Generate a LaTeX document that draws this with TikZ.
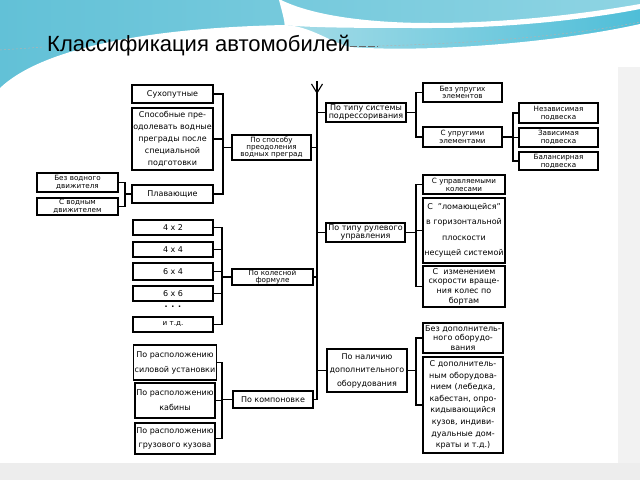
\documentclass[tikz,border=0pt]{standalone}
\usepackage{fontspec}
\setmainfont{DejaVu Sans}
\newfontfamily\titlefont{Liberation Sans}
\usetikzlibrary{arrows.meta}
\definecolor{tealL}{HTML}{62C1D7}
\definecolor{tealR}{HTML}{8ED4E3}
\definecolor{bandL}{HTML}{A5DCE7}
\definecolor{bandR}{HTML}{4FBED8}
\definecolor{pagegray}{HTML}{EDEDED}
\tikzset{
  box/.style={draw, line width=1.1pt, inner xsep=1pt, inner ysep=0pt, align=center,
    font=\fontsize{8}{8.6}\selectfont},
  lead/.style={font=\fontsize{8}{#1}\selectfont},
  small/.style={font=\fontsize{7.2}{#1}\selectfont},
  conn/.style={line width=1.1pt, line cap=rect},
}
\newcommand\abox[7][]{\node[box,minimum width={#4-#2},minimum height={#5-#3},#1] (#6) at ({(#2+#4)/2},{(#3+#5)/2}) {#7};}
\begin{document}
\begin{tikzpicture}[x=1pt,y=-1pt]
\useasboundingbox (0,0) rectangle (640,480);
% page background
\fill[pagegray] (0,0) rectangle (640,480);
% top wave
\shade[left color=tealL, right color=tealR] (0,0) rectangle (640,110);
\shade[left color=bandL, right color=bandR] (284,22) .. controls (380,30) and (520,28) .. (640,6) -- (640,60) -- (284,60) -- cycle;
\fill[white] (281,0) .. controls (318,18) and (380,23) .. (430,23) .. controls (520,23) and (600,11) .. (640,4)
  -- (640,9) .. controls (600,17) and (520,28) .. (430,28) .. controls (370,28) and (310,28) .. (285,25)
  .. controls (283,15) .. (279,0) -- cycle;
\fill[white] (0,88) .. controls (40,50) and (140,28) .. (285,25) .. controls (310,26) and (330,42) .. (350,47)
  .. controls (430,53) and (560,42) .. (640,24) -- (640,463) -- (0,463) -- cycle;
\fill[white!95!black] (618,67) rectangle (640,463);
\fill[pagegray] (0,463) rectangle (640,480);
% title
\node[anchor=base west, inner sep=0pt, font=\titlefont\fontsize{22}{24}\selectfont] (title) at (47,51) {Классификация автомобилей};
\draw[black!60, line width=0.7pt, dash pattern=on 7pt off 2pt] (title.base east) ++(0,-5) coordinate (dl) -- ++(28,0) coordinate (dr);
\draw[black!30, line width=0.5pt, dash pattern=on 2pt off 2pt] (dr) .. controls (450,44) and (560,38) .. (640,22);
\draw[black!30, line width=0.5pt, dash pattern=on 2pt off 2pt] (0,50) -- (44,47);

% ---- left column
\abox{132}{85}{213}{103}{suh}{Сухопутные}
\abox[lead=12]{132}{108}{213}{170}{spsb}{Способные пре-\\одолевать водные\\преграды после\\специальной\\подготовки}
\abox{132}{185}{213}{203}{plav}{Плавающие}
\abox[small=7.6]{37}{173}{118}{192}{bezvd}{Без водного\\движителя}
\abox[small=7.6]{37}{198}{118}{215}{svd}{С водным\\движителем}
\abox[small=7.4]{232}{135}{311}{160}{spos}{По способу\\преодоления\\водных преград}

\abox{133}{220}{213}{235}{f42}{4 x 2}
\abox{133}{242}{213}{257}{f44}{4 x 4}
\abox{133}{263}{213}{280}{f64}{6 x 4}
\abox{133}{286}{213}{301}{f66}{6 x 6}
\node[font=\fontsize{8}{9}\selectfont\bfseries, inner sep=0pt] (dots) at (173,307) {. . .};
\abox[small=8]{133}{317}{213}{332}{itd}{и т.д.}
\abox[small=7.4]{232}{269}{313}{285}{kol}{По колесной\\формуле}

\abox[lead=15]{135}{345}{215}{380}{rs}{По расположению\\силовой установки}
\abox[lead=15]{135}{383}{215}{418}{rk}{По расположению\\кабины}
\abox[lead=14]{135}{423}{215}{454}{rg}{По расположению\\грузового кузова}
\abox{233}{391}{313}{408}{komp}{По компоновке}

% ---- right column
\abox[lead=8.4]{326}{103}{406}{122}{pods}{По типу системы\\подрессоривания}
\abox[lead=8.4]{326}{223}{405}{242}{rul}{По типу рулевого\\управления}
\abox[lead=13.5]{327}{349}{407}{392}{nal}{По наличию\\дополнительного\\оборудования}

\abox[small=7.8]{423}{83}{502}{102}{bezupr}{Без упругих\\элементов}
\abox[small=7.8]{423}{127}{502}{147}{supr}{С упругими\\элементами}
\abox[small=8]{519}{103}{598}{123}{nez}{Независимая\\подвеска}
\abox[small=8]{519}{128}{598}{147}{zav}{Зависимая\\подвеска}
\abox[small=7.8]{519}{152}{598}{170}{bal}{Балансирная\\подвеска}

\abox[small=8]{423}{175}{505}{194}{upr}{С управляемыми\\колесами}
\abox[lead=15.5]{423}{198}{505}{263}{lom}{С \ "ломающейся"\\в горизонтальной\\плоскости\\несущей системой}
\abox[lead=9.6]{423}{266}{505}{307}{izm}{С \ изменением\\скорости враще-\\ния колес по\\бортам}
\abox[lead=9.4]{423}{323}{503}{353}{bezdop}{Без дополнитель-\\ного оборудо-\\вания}
\abox[lead=11.6]{423}{357}{503}{453}{sdop}{С дополнитель-\\ным оборудова-\\нием (лебедка,\\кабестан, опро-\\кидывающийся\\кузов, индиви-\\дуальные дом-\\краты и т.д.)}

% ---- bracket x positions
\coordinate (top) at (317,82);
\coordinate (tip) at (317,94);
\coordinate (bot) at (317,399.5);
\coordinate (xw) at (223,0);
\coordinate (xd) at (125,0);
\coordinate (xf) at (222,0);
\coordinate (xk) at (222,0);
\coordinate (xr) at (416,0);
\coordinate (xs) at (513,0);

% main line
\draw[conn] (top) -- (bot);
\draw[line width=1.1pt, -{Straight Barb[length=9pt,width=11pt,line width=1.1pt]}] (top) -- (tip);

% water obstacles
\draw[conn] (suh.east) -| (xw |- plav.east) -- (plav.east);
\draw[conn] (spsb.east) -- (spsb.east -| xw);
\draw[conn] (spos.west) -- (spos.west -| xw);
\draw[conn] (spos.east) -- (spos.east -| top);
% propulsion
\draw[conn] (bezvd.east) -| (xd |- svd.east) -- (svd.east);
\draw[conn] (plav.west) -- (plav.west -| xd);
% wheel formula
\draw[conn] (f42.east) -| (xf |- itd.east) -- (itd.east);
\draw[conn] (f44.east) -- (f44.east -| xf);
\draw[conn] (f64.east) -- (f64.east -| xf);
\draw[conn] (f66.east) -- (f66.east -| xf);
\draw[conn] (kol.west) -- (kol.west -| xf);
\draw[conn] (kol.east) -- (kol.east -| top);
% layout
\draw[conn] (rs.east) -| (xk |- rg.east) -- (rg.east);
\draw[conn] (rk.east) -- (rk.east -| xk);
\draw[conn] (komp.west) -- (komp.west -| xk);
\draw[conn] (komp.east) -- (bot);
% suspension
\draw[conn] (pods.west) -- (pods.west -| top);
\draw[conn] (bezupr.west) -| (xr |- supr.west) -- (supr.west);
\draw[conn] (pods.east) -- (pods.east -| xr);
\draw[conn] (nez.west) -| (xs |- bal.west) -- (bal.west);
\draw[conn] (zav.west) -- (zav.west -| xs);
\draw[conn] (supr.east) -- (supr.east -| xs);
% steering
\draw[conn] (rul.west) -- (rul.west -| top);
\draw[conn] (upr.west) -| (xr |- izm.west) -- (izm.west);
\draw[conn] (lom.west) -- (lom.west -| xr);
\draw[conn] (rul.east) -- (rul.east -| xr);
% equipment
\draw[conn] (nal.west) -- (nal.west -| top);
\draw[conn] (bezdop.west) -| (xr |- sdop.west) -- (sdop.west);
\draw[conn] (nal.east) -- (nal.east -| xr);
\end{tikzpicture}
\end{document}
